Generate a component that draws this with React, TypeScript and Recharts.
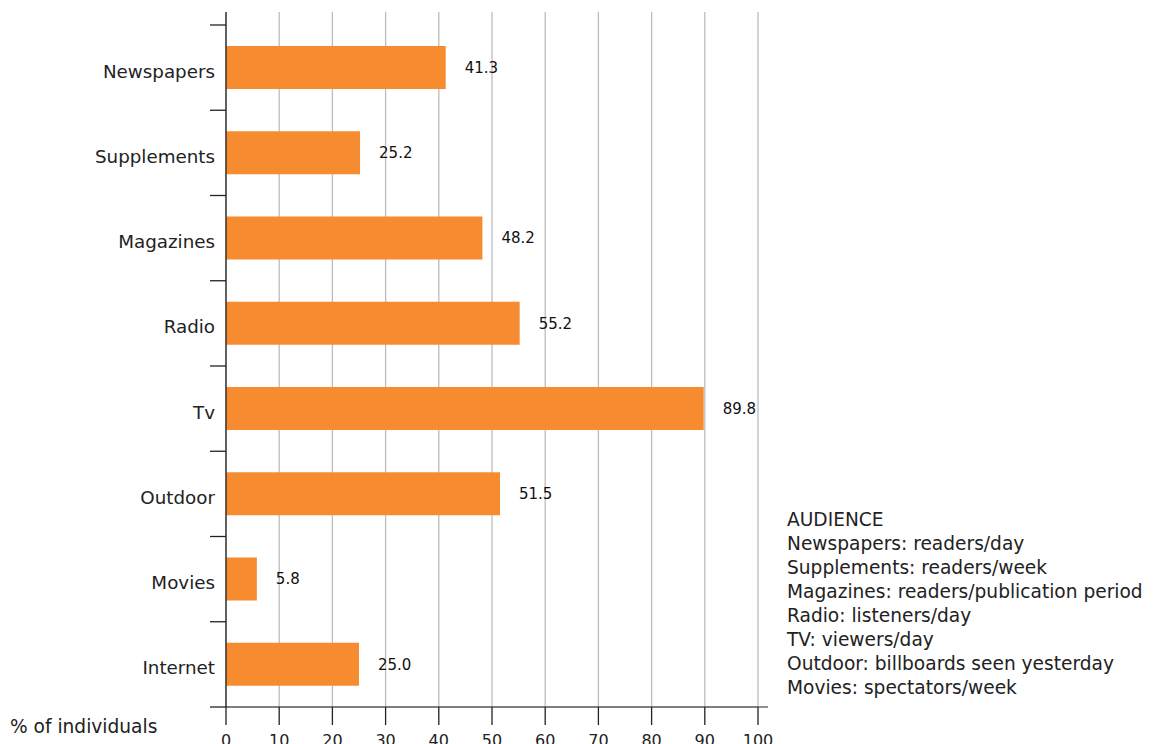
import React from 'react';
import { BarChart, Bar, XAxis, YAxis, CartesianGrid, LabelList } from 'recharts';

const categories = ['Newspapers', 'Supplements', 'Magazines', 'Radio', 'Tv', 'Outdoor', 'Movies', 'Internet'];
const audience = [41.3, 25.2, 48.2, 55.2, 89.8, 51.5, 5.8, 25.0];
const xTicks = [0, 10, 20, 30, 40, 50, 60, 70, 80, 90, 100];
const notes = [
  'AUDIENCE',
  'Newspapers: readers/day',
  'Supplements: readers/week',
  'Magazines: readers/publication period',
  'Radio: listeners/day',
  'TV: viewers/day',
  'Outdoor: billboards seen yesterday',
  'Movies: spectators/week',
];

const data = categories.map((name, i) => ({ name, value: audience[i] }));

const FONT = '"DejaVu Sans", Verdana, sans-serif';
const W = 1162;
const H = 744;
const TOP = 12;
const PAD_TOP = 13;
const X_AXIS_H = 37;
const X_TICK = 18;
const X_MARGIN = 10;
const HALF_BAND = (H - TOP - X_AXIS_H - PAD_TOP) / categories.length / 2;

const CategoryTick = ({ x, y, payload, index }: any) => {
  const axisX = x + 11;
  return (
    <g>
      <line x1={axisX - 16} x2={axisX} y1={y - HALF_BAND} y2={y - HALF_BAND} stroke="#222" strokeWidth={1.3} />
      {index === categories.length - 1 && (
        <line x1={axisX - 16} x2={axisX} y1={y + HALF_BAND} y2={y + HALF_BAND} stroke="#222" strokeWidth={1.3} />
      )}
      <text x={x} y={y} dy="0.55em" textAnchor="end" fill="#222" fontSize={18.3} fontFamily={FONT}>
        {payload.value}
      </text>
    </g>
  );
};

// value ticks; the last one also carries the short run of axis past 100
const ValueTick = ({ x, y, payload, index }: any) => {
  const axisY = y - X_TICK - X_MARGIN;
  return (
    <g>
      {index === xTicks.length - 1 && (
        <line x1={x} x2={x + 10} y1={axisY} y2={axisY} stroke="#555" strokeWidth={1.3} />
      )}
      <text x={x} y={y} dy="0.71em" textAnchor="middle" fill="#222" fontSize={16} fontFamily={FONT}>
        {payload.value}
      </text>
    </g>
  );
};

export default function App() {
  return (
    <div style={{ position: 'absolute', left: 0, top: 0, width: W, height: H, background: '#fff', fontFamily: FONT }}>
      <BarChart
        width={W}
        height={H}
        data={data}
        layout="vertical"
        margin={{ top: TOP, right: 404, bottom: 0, left: 0 }}
        barSize={43}
      >
        <CartesianGrid horizontal={false} stroke="#bdbdbd" strokeWidth={1.3} />
        <XAxis
          type="number"
          domain={[0, 100]}
          ticks={xTicks}
          height={X_AXIS_H}
          tickSize={X_TICK}
          tickMargin={X_MARGIN}
          interval={0}
          axisLine={{ stroke: '#555', strokeWidth: 1.3 }}
          tickLine={{ stroke: '#222', strokeWidth: 1.3 }}
          tick={<ValueTick />}
          allowDataOverflow
        />
        <YAxis
          type="category"
          dataKey="name"
          width={226}
          padding={{ top: PAD_TOP, bottom: 0 }}
          tickLine={false}
          tickSize={0}
          tickMargin={11}
          axisLine={{ stroke: '#222', strokeWidth: 1.3 }}
          tick={<CategoryTick />}
          interval={0}
        />
        <Bar dataKey="value" fill="#F68C2F" isAnimationActive={false}>
          <LabelList
            dataKey="value"
            position="right"
            offset={19}
            formatter={(v: any) => Number(v).toFixed(1)}
            style={{ fill: '#111', fontSize: 15, fontFamily: FONT }}
          />
        </Bar>
      </BarChart>
      <div style={{ position: 'absolute', left: 10, top: 716, fontSize: 18.6, color: '#222', lineHeight: '22px', whiteSpace: 'nowrap' }}>
        % of individuals
      </div>
      <div style={{ position: 'absolute', left: 787, top: 508, fontSize: 18.6, color: '#222', lineHeight: '24px', whiteSpace: 'nowrap' }}>
        {notes.map((n) => (
          <div key={n}>{n}</div>
        ))}
      </div>
    </div>
  );
}
